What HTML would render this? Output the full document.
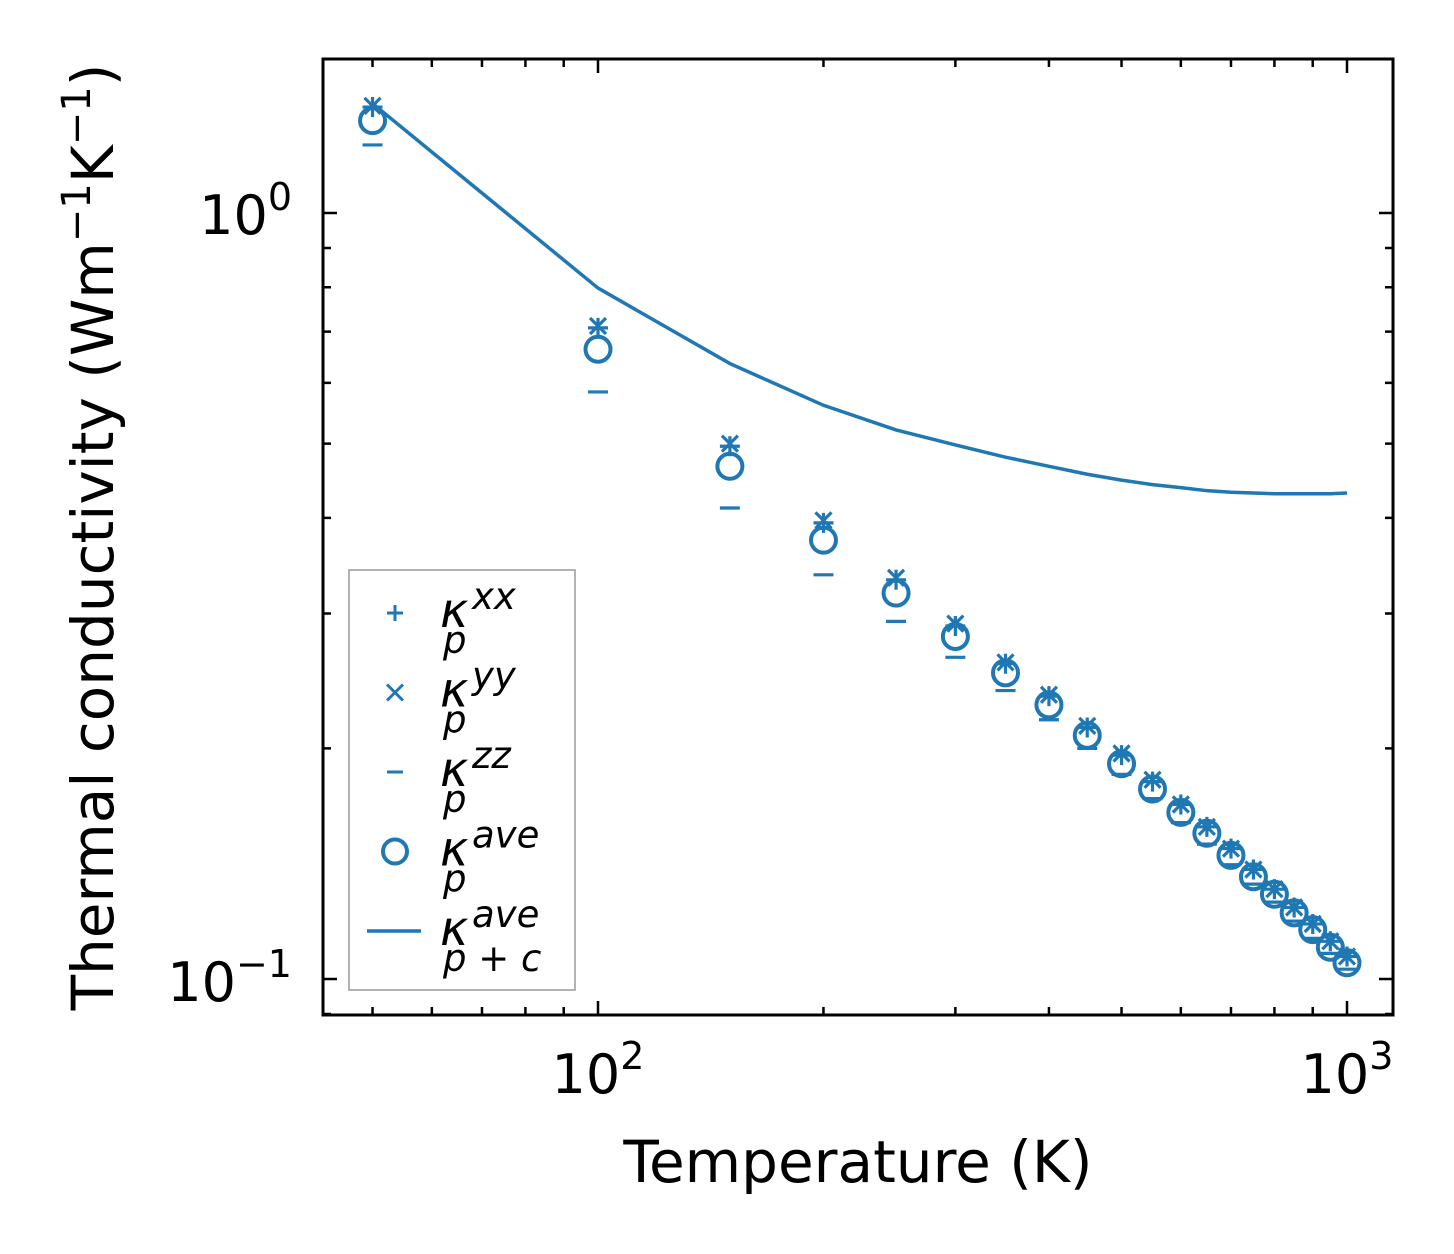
<!DOCTYPE html>
<html><head><meta charset="utf-8">
<style>
html,body{margin:0;padding:0;background:#fff;}
svg{display:block;font-family:"DejaVu Sans","Liberation Sans",sans-serif;}
</style></head>
<body>
<svg id="chart" width="1454" height="1254" viewBox="0 0 1454 1254"></svg>
<script>
const temps=[50,100,150,200,250,300,350,400,450,500,550,600,650,700,750,800,850,900,950,1000];
const kxx=[1.375,0.708,0.496,0.394,0.332,0.289,0.258,0.234,0.213,0.196,0.181,0.169,0.158,0.148,0.139,0.131,0.124,0.118,0.112,0.107];
const kyy=[1.38,0.712,0.50,0.397,0.334,0.291,0.259,0.235,0.214,0.197,0.182,0.169,0.158,0.148,0.139,0.131,0.124,0.118,0.112,0.107];
const kzz=[1.227,0.584,0.412,0.337,0.293,0.263,0.238,0.218,0.200,0.185,0.172,0.160,0.150,0.141,0.133,0.126,0.119,0.113,0.108,0.103];
const kave=[1.32,0.664,0.467,0.374,0.319,0.280,0.251,0.228,0.208,0.191,0.177,0.165,0.155,0.145,0.136,0.129,0.122,0.116,0.110,0.105];
const kpc=[1.39,0.798,0.636,0.561,0.521,0.498,0.480,0.467,0.456,0.448,0.442,0.438,0.434,0.432,0.431,0.430,0.430,0.430,0.430,0.431];
const xMajor=[100,1000];
const xMinor=[50,60,70,80,90,200,300,400,500,600,700,800,900];
const yMajor=[0.1,1];
const yMinor=[0.2,0.3,0.4,0.5,0.6,0.7,0.8,0.9,0.09];

const NS="http://www.w3.org/2000/svg";
const svg=document.getElementById('chart');
const C="#1f77b4";
const L=323,R=1393,T=59,B=1015;
function X(v){return 598+(Math.log10(v)-2)*749;}
function Y(v){return 213-Math.log10(v)*766;}
function el(tag,attrs,parent){const e=document.createElementNS(NS,tag);for(const k in attrs)e.setAttribute(k,attrs[k]);(parent||svg).appendChild(e);return e;}

const lineG=el('g',{});


el('polyline',{points:temps.map((t,i)=>X(t)+','+Y(kpc[i])).join(' '),fill:'none',stroke:C,'stroke-width':3.5},lineG);

const g1=el('g',{});


const g2=el('g',{});


const g3=el('g',{});


const g4=el('g',{});


temps.forEach((t,i)=>{
  const x=X(t);
  let y=Y(kxx[i]);
  el('path',{d:`M${x-10},${y}H${x+10}M${x},${y-10}V${y+10}`,stroke:C,'stroke-width':3.2,fill:'none'},g1);
  y=Y(kyy[i]);
  el('path',{d:`M${x-8},${y-8}L${x+8},${y+8}M${x-8},${y+8}L${x+8},${y-8}`,stroke:C,'stroke-width':3.2,fill:'none'},g2);
  y=Y(kzz[i]);
  el('path',{d:`M${x-10},${y}H${x+10}`,stroke:C,'stroke-width':3.2,fill:'none'},g3);
  y=Y(kave[i]);
  el('circle',{cx:x,cy:y,r:12.5,stroke:C,'stroke-width':4,fill:'none'},g4);
});

const frame=el('rect',{x:L,y:T,width:R-L,height:B-T,fill:'none',stroke:'#000','stroke-width':3});



const ticks=el('g',{stroke:'#000','stroke-width':2.5});


xMajor.forEach(v=>{const x=X(v);el('path',{d:`M${x},${B}V${B-14}M${x},${T}V${T+14}`},ticks);});
xMinor.forEach(v=>{const x=X(v);if(x>L&&x<R)el('path',{d:`M${x},${B}V${B-8}M${x},${T}V${T+8}`},ticks);});
yMajor.forEach(v=>{const y=Y(v);el('path',{d:`M${L},${y}H${L+14}M${R},${y}H${R-14}`},ticks);});
yMinor.forEach(v=>{const y=Y(v);if(y>T&&y<B)el('path',{d:`M${L},${y}H${L+8}M${R},${y}H${R-8}`},ticks);});

function powLabel(x,y,exp,anchor,name){
  const t=el('text',{x:x,y:y,'font-size':54,'text-anchor':anchor,fill:'#000'});
  
  
  const a=el('tspan',{},t);a.textContent='10';
  const b=el('tspan',{dy:-24,'font-size':38},t);b.textContent=exp;
}
powLabel(X(100),1093,'2','middle','x-tick-100');
powLabel(X(1000),1093,'3','middle','x-tick-1000');
powLabel(292,234,'0','end','y-tick-1');
powLabel(292,1001,'\u22121','end','y-tick-0.1');

const xt=el('text',{x:858,y:1182,'font-size':58,'text-anchor':'middle',fill:'#000'});
xt.textContent='Temperature (K)';


const yt=el('text',{x:0,y:0,'font-size':58,'text-anchor':'middle',fill:'#000',transform:'translate(113,537) rotate(-90)'});


const s1=el('tspan',{},yt);s1.textContent='Thermal conductivity (Wm';
const s2=el('tspan',{dy:-23,'font-size':40},yt);s2.textContent='\u22121';
const s3=el('tspan',{dy:23},yt);s3.textContent='K';
const s4=el('tspan',{dy:-23,'font-size':40},yt);s4.textContent='\u22121';
const s5=el('tspan',{dy:23},yt);s5.textContent=')';

const lg=el('g',{});


el('rect',{x:349,y:570,width:226,height:420,fill:'#fff',stroke:'#999','stroke-width':1.5},lg);
const entries=[['xx','p','plus'],['yy','p','x'],['zz','p','dash'],['ave','p','circle'],['ave','p + c','line']];
entries.forEach((e,i)=>{
  const cy=613+i*79.5;
  const eg=el('g',{},lg);
  
  
  const x=395;
  if(e[2]==='plus')el('path',{d:`M${x-8},${cy}H${x+8}M${x},${cy-8}V${cy+8}`,stroke:C,'stroke-width':3},eg);
  if(e[2]==='x')el('path',{d:`M${x-8},${cy-8}L${x+8},${cy+8}M${x-8},${cy+8}L${x+8},${cy-8}`,stroke:C,'stroke-width':3},eg);
  if(e[2]==='dash')el('path',{d:`M${x-8},${cy}H${x+8}`,stroke:C,'stroke-width':3},eg);
  if(e[2]==='circle')el('circle',{cx:x,cy:cy,r:12,stroke:C,'stroke-width':4,fill:'none'},eg);
  if(e[2]==='line')el('path',{d:`M367,${cy}H421`,stroke:C,'stroke-width':3.5},eg);
  const k=el('text',{x:440,y:cy+14,'font-size':48,'font-style':'italic',fill:'#000'},eg);k.textContent='\u03ba';
  const sup=el('text',{x:472,y:cy-4,'font-size':37,'font-style':'italic',fill:'#000'},eg);sup.textContent=e[0];
  const sub=el('text',{x:443,y:cy+40,'font-size':37,'font-style':'italic',fill:'#000'},eg);sub.textContent=e[1];
});
</script>
</body></html>
